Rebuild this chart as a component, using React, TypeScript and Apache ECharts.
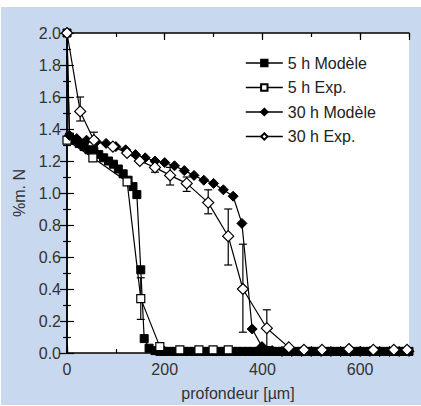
import React, { useEffect, useRef } from "react";
import * as echarts from "echarts";

const xTickLabels = [0, 200, 400, 600];
const yTickStep = 0.2;

const model5h: [number, number][] = [
  [0, 2.0], [5, 1.35], [15, 1.33], [25, 1.31], [35, 1.29], [45, 1.27], [55, 1.26], [65, 1.24],
  [75, 1.22], [85, 1.2], [95, 1.18], [105, 1.15], [115, 1.12], [125, 1.08], [135, 1.04], [143, 0.99],
  [151, 0.52], [158, 0.09], [168, 0.03], [180, 0.015], [190, 0.01], [200, 0.01], [210, 0.01],
  [220, 0.01], [230, 0.01], [240, 0.01], [250, 0.01], [260, 0.01], [270, 0.01], [280, 0.01],
  [290, 0.01], [300, 0.01], [310, 0.01], [320, 0.01], [330, 0.01], [340, 0.01], [350, 0.01],
  [360, 0.01], [370, 0.01], [380, 0.01], [390, 0.01], [400, 0.01], [410, 0.01], [420, 0.01],
  [430, 0.01], [440, 0.01], [450, 0.01], [460, 0.01], [470, 0.01], [480, 0.01], [490, 0.01],
  [500, 0.01], [510, 0.01], [520, 0.01], [530, 0.01], [540, 0.01], [550, 0.01], [560, 0.01],
  [570, 0.01], [580, 0.01], [590, 0.01], [600, 0.01], [610, 0.01], [620, 0.01], [630, 0.01],
  [640, 0.01], [650, 0.01], [660, 0.01], [670, 0.01], [680, 0.01], [690, 0.01], [700, 0.01],
];

const exp5h: [number, number][] = [
  [0, 1.33], [53, 1.22], [123, 1.07], [151, 0.34], [190, 0.04], [231, 0.02], [270, 0.02],
  [299, 0.02], [330, 0.02],
];

const err5h: [number, number, number][] = [[151, 0.21, 0.47]];

const model30h: [number, number][] = [
  [0, 2.0], [5, 1.36], [20, 1.34], [40, 1.33], [60, 1.32], [80, 1.31], [100, 1.29], [120, 1.27],
  [140, 1.24], [160, 1.22], [180, 1.2], [200, 1.19], [220, 1.17], [240, 1.14], [260, 1.11],
  [280, 1.08], [300, 1.06], [320, 1.02], [340, 0.98], [358, 0.81], [379, 0.15], [399, 0.04],
  [420, 0.015], [440, 0.01], [460, 0.01], [480, 0.01], [500, 0.01], [520, 0.01], [540, 0.01],
  [560, 0.01], [580, 0.01], [600, 0.01], [620, 0.01], [640, 0.01], [660, 0.01], [680, 0.01],
  [700, 0.01],
];

const exp30h: [number, number][] = [
  [0, 2.0], [27, 1.51], [55, 1.33], [94, 1.29], [123, 1.25], [149, 1.2], [180, 1.16], [211, 1.11],
  [245, 1.06], [289, 0.94], [330, 0.73], [360, 0.4], [409, 0.155], [454, 0.035], [485, 0.02],
  [522, 0.02], [577, 0.025], [627, 0.02], [669, 0.02], [696, 0.02],
];

const err30h: [number, number, number][] = [
  [27, 1.45, 1.6], [55, 1.29, 1.38], [180, 1.13, 1.19], [211, 1.05, 1.16], [245, 1.01, 1.1],
  [289, 0.87, 1.02], [330, 0.55, 0.9], [360, 0.13, 0.68], [409, 0.04, 0.27],
];

const FONT = "'Liberation Sans', Arial, sans-serif";

function errRender(params: any, api: any) {
  const x = api.value(0);
  const lo = api.value(1);
  const hi = api.value(2);
  const p1 = api.coord([x, hi]);
  const p2 = api.coord([x, lo]);
  const w = 4;
  const st = { stroke: "#000", lineWidth: 1.2 };
  return {
    type: "group",
    children: [
      { type: "line", shape: { x1: p1[0], y1: p1[1], x2: p2[0], y2: p2[1] }, style: st },
      { type: "line", shape: { x1: p1[0] - w, y1: p1[1], x2: p1[0] + w, y2: p1[1] }, style: st },
      { type: "line", shape: { x1: p2[0] - w, y1: p2[1], x2: p2[0] + w, y2: p2[1] }, style: st },
    ],
  };
}

export default function App() {
  const ref = useRef<HTMLDivElement>(null);
  useEffect(() => {
    if (!ref.current) return;
    const chart = echarts.init(ref.current, undefined, { renderer: "svg" });
    const axisLine = { show: true, lineStyle: { color: "#000", width: 1.5 } };
    const hidden = { show: false };
    const option: any = {
      animation: false,
      backgroundColor: "transparent",
      grid: {
        left: 67, top: 33, right: 12, bottom: 48,
        show: true, backgroundColor: "#fff", borderWidth: 0,
      },
      legend: {
        orient: "vertical", left: 240, top: 50, itemWidth: 37, itemHeight: 8, itemGap: 8.5,
        textStyle: { fontSize: 16, color: "#222", fontFamily: FONT },
        lineStyle: { width: 1.6 },
        data: ["5 h Modèle", "5 h Exp.", "30 h Modèle", "30 h Exp."],
      },
      xAxis: [
        {
          type: "value", min: 0, max: 700, interval: 200, position: "bottom",
          axisLine, splitLine: hidden,
          axisTick: { show: true, inside: true, length: 7, lineStyle: { color: "#000", width: 1.2 } },
          axisLabel: {
            fontSize: 16, color: "#333", fontFamily: FONT, margin: 8, showMaxLabel: false,
            formatter: (v: number) => (xTickLabels.indexOf(v) >= 0 ? String(v) : ""),
          },
          name: "profondeur [µm]", nameLocation: "middle", nameGap: 32,
          nameTextStyle: { fontSize: 16, color: "#333", fontFamily: FONT },
        },
        {
          type: "value", min: 0, max: 700, interval: 100, position: "bottom",
          axisLine: hidden, splitLine: hidden, axisLabel: hidden,
          axisTick: { show: true, inside: true, length: 4, lineStyle: { color: "#000", width: 1.2 } },
        },
        {
          type: "value", min: 0, max: 700, interval: 200, position: "top",
          axisLine, splitLine: hidden, axisLabel: hidden,
          axisTick: { show: true, inside: true, length: 7, lineStyle: { color: "#000", width: 1.2 } },
        },
        {
          type: "value", min: 0, max: 700, interval: 100, position: "top",
          axisLine: hidden, splitLine: hidden, axisLabel: hidden,
          axisTick: { show: true, inside: true, length: 4, lineStyle: { color: "#000", width: 1.2 } },
        },
      ],
      yAxis: [
        {
          type: "value", min: 0, max: 2.0, interval: yTickStep, position: "left",
          axisLine, splitLine: hidden,
          axisTick: { show: true, inside: true, length: 7, lineStyle: { color: "#000", width: 1.2 } },
          minorTick: { show: true, splitNumber: 2, length: 4, lineStyle: { color: "#000", width: 1.2 } },
          minorSplitLine: hidden,
          axisLabel: {
            fontSize: 16, color: "#333", fontFamily: FONT, margin: 6,
            formatter: (v: number) => v.toFixed(1),
          },
          name: "%m. N", nameLocation: "middle", nameGap: 40,
          nameTextStyle: { fontSize: 16, color: "#333", fontFamily: FONT },
        },
        {
          type: "value", min: 0, max: 2.0, interval: yTickStep, position: "right",
          axisLine, splitLine: hidden, axisLabel: hidden,
          axisTick: { show: true, inside: true, length: 7, lineStyle: { color: "#000", width: 1.2 } },
          minorTick: { show: true, splitNumber: 2, length: 4, lineStyle: { color: "#000", width: 1.2 } },
          minorSplitLine: hidden,
        },
      ],
      series: [
        {
          type: "custom", name: "err5", xAxisIndex: 0, yAxisIndex: 0,
          data: err5h, renderItem: errRender, encode: { x: 0, y: [1, 2] }, z: 1,
        },
        {
          type: "custom", name: "err30", xAxisIndex: 0, yAxisIndex: 0,
          data: err30h, renderItem: errRender, encode: { x: 0, y: [1, 2] }, z: 1,
        },
        {
          type: "line", name: "5 h Modèle", data: model5h, symbol: "rect", symbolSize: 8,
          lineStyle: { color: "#000", width: 1.2 },
          itemStyle: { color: "#000", borderColor: "#000", borderWidth: 1 }, z: 2,
        },
        {
          type: "line", name: "5 h Exp.", data: exp5h, symbol: "rect", symbolSize: 8,
          lineStyle: { color: "#000", width: 1.2 },
          itemStyle: { color: "#fff", borderColor: "#000", borderWidth: 1.2 }, z: 3,
        },
        {
          type: "line", name: "30 h Modèle", data: model30h, symbol: "diamond", symbolSize: 10,
          lineStyle: { color: "#000", width: 1.2 },
          itemStyle: { color: "#000", borderColor: "#000", borderWidth: 1 }, z: 4,
        },
        {
          type: "line", name: "30 h Exp.", data: exp30h, symbol: "diamond", symbolSize: 11,
          lineStyle: { color: "#000", width: 1.2 },
          itemStyle: { color: "#fff", borderColor: "#000", borderWidth: 1.2 }, z: 5,
        },
      ],
    };
    chart.setOption(option);
    return () => chart.dispose();
  }, []);
  return (
    <div style={{ position: "fixed", left: 0, top: 0, width: 421, height: 406, background: "#fff" }}>
      <div style={{ position: "absolute", left: 1, top: 7, width: 420, height: 398, background: "#c8d8ee" }} />
      <div ref={ref} style={{ position: "absolute", left: 0, top: 0, width: 421, height: 406 }} />
    </div>
  );
}
